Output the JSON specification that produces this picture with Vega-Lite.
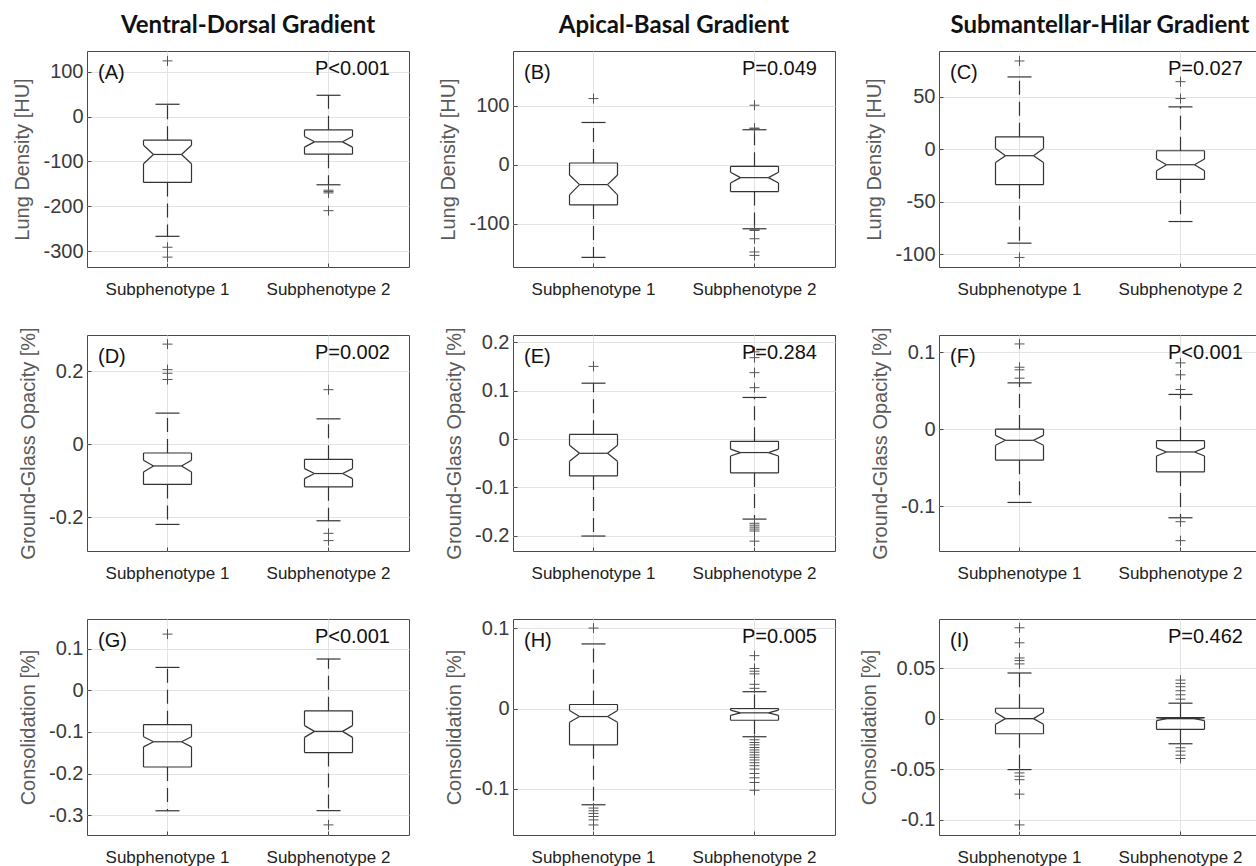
{
"$schema":"https://vega.github.io/schema/vega-lite/v6.json",
"background":"white",
"padding":{"left":12,"top":13,"right":0,"bottom":0},
"columns":3,
"spacing":{"row":68,"column":104},
"bounds":"flush",
"config":{
"font":"Liberation Sans",
"view":{"stroke":"#4a4a4a","strokeWidth":1},
"axis":{"domain":false,"gridColor":"#e3e3e3","gridWidth":1,"tickColor":"#4a4a4a","tickSize":-4,"labelFont":"Liberation Sans","titleFont":"Liberation Sans","titleFontWeight":"normal"},
"axisY":{"labelFontSize":20,"labelColor":"#3a3a3a","titleFontSize":20,"titleColor":"#5a5a5a","titlePadding":10,"labelPadding":8},
"axisX":{"labelFontSize":17,"labelColor":"#222222","labelPadding":18},
"rule":{"color":"#333333","strokeWidth":1.2},
"point":{"stroke":"#555555","strokeWidth":1,"opacity":1},
"text":{"fontSize":20,"color":"#111111","font":"Liberation Sans"},
"title":{"font":"Lato","fontSize":24,"fontWeight":"bold","color":"#111111","offset":13.5,"baseline":"alphabetic","anchor":"middle","frame":"group"}
},
"concat":[
{"width":322,"height":216,"title":{"text":"Ventral-Dorsal Gradient"},
"data":{"values":[{"g":"Subphenotype 1","q1":-146.7,"q3":-52.6,"med":-84.4,"nhi":-64,"nlo":-105,"whi":27.4,"wlo":-266.7},{"g":"Subphenotype 2","q1":-83.7,"q3":-29.6,"med":-56.3,"nhi":-44.4,"nlo":-68,"whi":47.4,"wlo":-151.9}]},
"encoding":{"x":{"field":"g","type":"nominal","bandPosition":0.5,"title":null,"scale":{"type":"band","domain":["Subphenotype 1","Subphenotype 2"],"paddingInner":0,"paddingOuter":0},"axis":{"labelAngle":0,"grid":true,"bandPosition":0.5}}},
"layer":[
{"mark":{"type":"rule","xOffset":-24,"x2Offset":24},"encoding":{"x2":{"field":"g","bandPosition":0.5},"y":{"field":"q3","type":"quantitative","scale":{"domain":[-335,146],"nice":false,"zero":false},"axis":{"title":"Lung Density [HU]","values":[-300,-200,-100,0,100],"labelExpr":"'' + datum.value"}},"y2":{"field":"q3"}}},
{"mark":{"type":"rule","xOffset":-24,"x2Offset":24},"encoding":{"x2":{"field":"g","bandPosition":0.5},"y":{"field":"q1","type":"quantitative"},"y2":{"field":"q1"}}},
{"mark":{"type":"rule","xOffset":-24,"x2Offset":-24},"encoding":{"x2":{"field":"g","bandPosition":0.5},"y":{"field":"q3","type":"quantitative"},"y2":{"field":"nhi"}}},
{"mark":{"type":"rule","xOffset":-24,"x2Offset":-14},"encoding":{"x2":{"field":"g","bandPosition":0.5},"y":{"field":"nhi","type":"quantitative"},"y2":{"field":"med"}}},
{"mark":{"type":"rule","xOffset":-14,"x2Offset":-24},"encoding":{"x2":{"field":"g","bandPosition":0.5},"y":{"field":"med","type":"quantitative"},"y2":{"field":"nlo"}}},
{"mark":{"type":"rule","xOffset":-24,"x2Offset":-24},"encoding":{"x2":{"field":"g","bandPosition":0.5},"y":{"field":"nlo","type":"quantitative"},"y2":{"field":"q1"}}},
{"mark":{"type":"rule","xOffset":24,"x2Offset":24},"encoding":{"x2":{"field":"g","bandPosition":0.5},"y":{"field":"q3","type":"quantitative"},"y2":{"field":"nhi"}}},
{"mark":{"type":"rule","xOffset":24,"x2Offset":14},"encoding":{"x2":{"field":"g","bandPosition":0.5},"y":{"field":"nhi","type":"quantitative"},"y2":{"field":"med"}}},
{"mark":{"type":"rule","xOffset":14,"x2Offset":24},"encoding":{"x2":{"field":"g","bandPosition":0.5},"y":{"field":"med","type":"quantitative"},"y2":{"field":"nlo"}}},
{"mark":{"type":"rule","xOffset":24,"x2Offset":24},"encoding":{"x2":{"field":"g","bandPosition":0.5},"y":{"field":"nlo","type":"quantitative"},"y2":{"field":"q1"}}},
{"mark":{"type":"rule","xOffset":-14,"x2Offset":14},"encoding":{"x2":{"field":"g","bandPosition":0.5},"y":{"field":"med","type":"quantitative"},"y2":{"field":"med"}}},
{"mark":{"type":"rule","strokeDash":[14,7]},"encoding":{"y":{"field":"q3","type":"quantitative"},"y2":{"field":"whi"}}},
{"mark":{"type":"rule","strokeDash":[14,7]},"encoding":{"y":{"field":"q1","type":"quantitative"},"y2":{"field":"wlo"}}},
{"mark":{"type":"rule","xOffset":-12,"x2Offset":12},"encoding":{"x2":{"field":"g","bandPosition":0.5},"y":{"field":"whi","type":"quantitative"},"y2":{"field":"whi"}}},
{"mark":{"type":"rule","xOffset":-12,"x2Offset":12},"encoding":{"x2":{"field":"g","bandPosition":0.5},"y":{"field":"wlo","type":"quantitative"},"y2":{"field":"wlo"}}},
{"data":{"values":[{"g":"Subphenotype 1","v":124},{"g":"Subphenotype 1","v":-291},{"g":"Subphenotype 1","v":-313},{"g":"Subphenotype 2","v":-164},{"g":"Subphenotype 2","v":-167},{"g":"Subphenotype 2","v":-170},{"g":"Subphenotype 2","v":-209.6}]},"mark":{"type":"point","shape":"M-1,0H1M0,-1V1","size":100,"filled":false},"encoding":{"y":{"field":"v","type":"quantitative"}}},
{"data":{"values":[{"g":"Subphenotype 1","t":"(A)"}]},"mark":{"type":"text","align":"left","baseline":"top","dx":11,"dy":12},"encoding":{"x":{"field":"g","type":"nominal","bandPosition":0,"scale":{"type":"band"}},"y":{"datum":146,"type":"quantitative"},"text":{"field":"t"}}},
{"data":{"values":[{"g":"Subphenotype 2","t":"P<0.001"}]},"mark":{"type":"text","align":"right","baseline":"top","dx":-19,"dy":8},"encoding":{"x":{"field":"g","type":"nominal","bandPosition":1,"scale":{"type":"band"}},"y":{"datum":146,"type":"quantitative"},"text":{"field":"t"}}}
]},
{"width":322,"height":216,"title":{"text":"Apical-Basal Gradient"},
"data":{"values":[{"g":"Subphenotype 1","q1":-68.2,"q3":2.8,"med":-33.8,"nhi":-17.5,"nlo":-51.3,"whi":71.5,"wlo":-157.2},{"g":"Subphenotype 2","q1":-45.6,"q3":-2.8,"med":-22,"nhi":-13,"nlo":-31,"whi":59.2,"wlo":-108.7}]},
"encoding":{"x":{"field":"g","type":"nominal","bandPosition":0.5,"title":null,"scale":{"type":"band","domain":["Subphenotype 1","Subphenotype 2"],"paddingInner":0,"paddingOuter":0},"axis":{"labelAngle":0,"grid":true,"bandPosition":0.5}}},
"layer":[
{"mark":{"type":"rule","xOffset":-24,"x2Offset":24},"encoding":{"x2":{"field":"g","bandPosition":0.5},"y":{"field":"q3","type":"quantitative","scale":{"domain":[-173.5,192.7],"nice":false,"zero":false},"axis":{"title":"Lung Density [HU]","values":[-100,0,100],"labelExpr":"'' + datum.value"}},"y2":{"field":"q3"}}},
{"mark":{"type":"rule","xOffset":-24,"x2Offset":24},"encoding":{"x2":{"field":"g","bandPosition":0.5},"y":{"field":"q1","type":"quantitative"},"y2":{"field":"q1"}}},
{"mark":{"type":"rule","xOffset":-24,"x2Offset":-24},"encoding":{"x2":{"field":"g","bandPosition":0.5},"y":{"field":"q3","type":"quantitative"},"y2":{"field":"nhi"}}},
{"mark":{"type":"rule","xOffset":-24,"x2Offset":-14},"encoding":{"x2":{"field":"g","bandPosition":0.5},"y":{"field":"nhi","type":"quantitative"},"y2":{"field":"med"}}},
{"mark":{"type":"rule","xOffset":-14,"x2Offset":-24},"encoding":{"x2":{"field":"g","bandPosition":0.5},"y":{"field":"med","type":"quantitative"},"y2":{"field":"nlo"}}},
{"mark":{"type":"rule","xOffset":-24,"x2Offset":-24},"encoding":{"x2":{"field":"g","bandPosition":0.5},"y":{"field":"nlo","type":"quantitative"},"y2":{"field":"q1"}}},
{"mark":{"type":"rule","xOffset":24,"x2Offset":24},"encoding":{"x2":{"field":"g","bandPosition":0.5},"y":{"field":"q3","type":"quantitative"},"y2":{"field":"nhi"}}},
{"mark":{"type":"rule","xOffset":24,"x2Offset":14},"encoding":{"x2":{"field":"g","bandPosition":0.5},"y":{"field":"nhi","type":"quantitative"},"y2":{"field":"med"}}},
{"mark":{"type":"rule","xOffset":14,"x2Offset":24},"encoding":{"x2":{"field":"g","bandPosition":0.5},"y":{"field":"med","type":"quantitative"},"y2":{"field":"nlo"}}},
{"mark":{"type":"rule","xOffset":24,"x2Offset":24},"encoding":{"x2":{"field":"g","bandPosition":0.5},"y":{"field":"nlo","type":"quantitative"},"y2":{"field":"q1"}}},
{"mark":{"type":"rule","xOffset":-14,"x2Offset":14},"encoding":{"x2":{"field":"g","bandPosition":0.5},"y":{"field":"med","type":"quantitative"},"y2":{"field":"med"}}},
{"mark":{"type":"rule","strokeDash":[14,7]},"encoding":{"y":{"field":"q3","type":"quantitative"},"y2":{"field":"whi"}}},
{"mark":{"type":"rule","strokeDash":[14,7]},"encoding":{"y":{"field":"q1","type":"quantitative"},"y2":{"field":"wlo"}}},
{"mark":{"type":"rule","xOffset":-12,"x2Offset":12},"encoding":{"x2":{"field":"g","bandPosition":0.5},"y":{"field":"whi","type":"quantitative"},"y2":{"field":"whi"}}},
{"mark":{"type":"rule","xOffset":-12,"x2Offset":12},"encoding":{"x2":{"field":"g","bandPosition":0.5},"y":{"field":"wlo","type":"quantitative"},"y2":{"field":"wlo"}}},
{"data":{"values":[{"g":"Subphenotype 1","v":112},{"g":"Subphenotype 2","v":100.8},{"g":"Subphenotype 2","v":62},{"g":"Subphenotype 2","v":61},{"g":"Subphenotype 2","v":-110.5},{"g":"Subphenotype 2","v":-111.5},{"g":"Subphenotype 2","v":-125.6},{"g":"Subphenotype 2","v":-148},{"g":"Subphenotype 2","v":-153.8}]},"mark":{"type":"point","shape":"M-1,0H1M0,-1V1","size":100,"filled":false},"encoding":{"y":{"field":"v","type":"quantitative"}}},
{"data":{"values":[{"g":"Subphenotype 1","t":"(B)"}]},"mark":{"type":"text","align":"left","baseline":"top","dx":11,"dy":12},"encoding":{"x":{"field":"g","type":"nominal","bandPosition":0,"scale":{"type":"band"}},"y":{"datum":192.7,"type":"quantitative"},"text":{"field":"t"}}},
{"data":{"values":[{"g":"Subphenotype 2","t":"P=0.049"}]},"mark":{"type":"text","align":"right","baseline":"top","dx":-18,"dy":8},"encoding":{"x":{"field":"g","type":"nominal","bandPosition":1,"scale":{"type":"band"}},"y":{"datum":192.7,"type":"quantitative"},"text":{"field":"t"}}}
]},
{"width":322,"height":216,"title":{"text":"Submantellar-Hilar Gradient"},
"data":{"values":[{"g":"Subphenotype 1","q1":-33.9,"q3":11.7,"med":-6.3,"nhi":0.6,"nlo":-12.7,"whi":68.7,"wlo":-89.6},{"g":"Subphenotype 2","q1":-28.8,"q3":-1.6,"med":-14.9,"nhi":-9.5,"nlo":-20.6,"whi":40.2,"wlo":-69}]},
"encoding":{"x":{"field":"g","type":"nominal","bandPosition":0.5,"title":null,"scale":{"type":"band","domain":["Subphenotype 1","Subphenotype 2"],"paddingInner":0,"paddingOuter":0},"axis":{"labelAngle":0,"grid":true,"bandPosition":0.5}}},
"layer":[
{"mark":{"type":"rule","xOffset":-24,"x2Offset":24},"encoding":{"x2":{"field":"g","bandPosition":0.5},"y":{"field":"q3","type":"quantitative","scale":{"domain":[-112.3,93.4],"nice":false,"zero":false},"axis":{"title":"Lung Density [HU]","values":[-100,-50,0,50],"labelExpr":"'' + datum.value"}},"y2":{"field":"q3"}}},
{"mark":{"type":"rule","xOffset":-24,"x2Offset":24},"encoding":{"x2":{"field":"g","bandPosition":0.5},"y":{"field":"q1","type":"quantitative"},"y2":{"field":"q1"}}},
{"mark":{"type":"rule","xOffset":-24,"x2Offset":-24},"encoding":{"x2":{"field":"g","bandPosition":0.5},"y":{"field":"q3","type":"quantitative"},"y2":{"field":"nhi"}}},
{"mark":{"type":"rule","xOffset":-24,"x2Offset":-14},"encoding":{"x2":{"field":"g","bandPosition":0.5},"y":{"field":"nhi","type":"quantitative"},"y2":{"field":"med"}}},
{"mark":{"type":"rule","xOffset":-14,"x2Offset":-24},"encoding":{"x2":{"field":"g","bandPosition":0.5},"y":{"field":"med","type":"quantitative"},"y2":{"field":"nlo"}}},
{"mark":{"type":"rule","xOffset":-24,"x2Offset":-24},"encoding":{"x2":{"field":"g","bandPosition":0.5},"y":{"field":"nlo","type":"quantitative"},"y2":{"field":"q1"}}},
{"mark":{"type":"rule","xOffset":24,"x2Offset":24},"encoding":{"x2":{"field":"g","bandPosition":0.5},"y":{"field":"q3","type":"quantitative"},"y2":{"field":"nhi"}}},
{"mark":{"type":"rule","xOffset":24,"x2Offset":14},"encoding":{"x2":{"field":"g","bandPosition":0.5},"y":{"field":"nhi","type":"quantitative"},"y2":{"field":"med"}}},
{"mark":{"type":"rule","xOffset":14,"x2Offset":24},"encoding":{"x2":{"field":"g","bandPosition":0.5},"y":{"field":"med","type":"quantitative"},"y2":{"field":"nlo"}}},
{"mark":{"type":"rule","xOffset":24,"x2Offset":24},"encoding":{"x2":{"field":"g","bandPosition":0.5},"y":{"field":"nlo","type":"quantitative"},"y2":{"field":"q1"}}},
{"mark":{"type":"rule","xOffset":-14,"x2Offset":14},"encoding":{"x2":{"field":"g","bandPosition":0.5},"y":{"field":"med","type":"quantitative"},"y2":{"field":"med"}}},
{"mark":{"type":"rule","strokeDash":[14,7]},"encoding":{"y":{"field":"q3","type":"quantitative"},"y2":{"field":"whi"}}},
{"mark":{"type":"rule","strokeDash":[14,7]},"encoding":{"y":{"field":"q1","type":"quantitative"},"y2":{"field":"wlo"}}},
{"mark":{"type":"rule","xOffset":-12,"x2Offset":12},"encoding":{"x2":{"field":"g","bandPosition":0.5},"y":{"field":"whi","type":"quantitative"},"y2":{"field":"whi"}}},
{"mark":{"type":"rule","xOffset":-12,"x2Offset":12},"encoding":{"x2":{"field":"g","bandPosition":0.5},"y":{"field":"wlo","type":"quantitative"},"y2":{"field":"wlo"}}},
{"data":{"values":[{"g":"Subphenotype 1","v":83.9},{"g":"Subphenotype 1","v":-103.2},{"g":"Subphenotype 2","v":64.2},{"g":"Subphenotype 2","v":48.1}]},"mark":{"type":"point","shape":"M-1,0H1M0,-1V1","size":100,"filled":false},"encoding":{"y":{"field":"v","type":"quantitative"}}},
{"data":{"values":[{"g":"Subphenotype 1","t":"(C)"}]},"mark":{"type":"text","align":"left","baseline":"top","dx":11,"dy":12},"encoding":{"x":{"field":"g","type":"nominal","bandPosition":0,"scale":{"type":"band"}},"y":{"datum":93.4,"type":"quantitative"},"text":{"field":"t"}}},
{"data":{"values":[{"g":"Subphenotype 2","t":"P=0.027"}]},"mark":{"type":"text","align":"right","baseline":"top","dx":-18,"dy":8},"encoding":{"x":{"field":"g","type":"nominal","bandPosition":1,"scale":{"type":"band"}},"y":{"datum":93.4,"type":"quantitative"},"text":{"field":"t"}}}
]},
{"width":322,"height":216,
"data":{"values":[{"g":"Subphenotype 1","q1":-0.11,"q3":-0.0237,"med":-0.0592,"nhi":-0.0437,"nlo":-0.0756,"whi":0.0857,"wlo":-0.2196},{"g":"Subphenotype 2","q1":-0.1166,"q3":-0.041,"med":-0.08,"nhi":-0.0665,"nlo":-0.094,"whi":0.07,"wlo":-0.2096}]},
"encoding":{"x":{"field":"g","type":"nominal","bandPosition":0.5,"title":null,"scale":{"type":"band","domain":["Subphenotype 1","Subphenotype 2"],"paddingInner":0,"paddingOuter":0},"axis":{"labelAngle":0,"grid":true,"bandPosition":0.5}}},
"layer":[
{"mark":{"type":"rule","xOffset":-24,"x2Offset":24},"encoding":{"x2":{"field":"g","bandPosition":0.5},"y":{"field":"q3","type":"quantitative","scale":{"domain":[-0.2925,0.3],"nice":false,"zero":false},"axis":{"title":"Ground-Glass Opacity [%]","values":[-0.2,0,0.2],"labelExpr":"'' + datum.value"}},"y2":{"field":"q3"}}},
{"mark":{"type":"rule","xOffset":-24,"x2Offset":24},"encoding":{"x2":{"field":"g","bandPosition":0.5},"y":{"field":"q1","type":"quantitative"},"y2":{"field":"q1"}}},
{"mark":{"type":"rule","xOffset":-24,"x2Offset":-24},"encoding":{"x2":{"field":"g","bandPosition":0.5},"y":{"field":"q3","type":"quantitative"},"y2":{"field":"nhi"}}},
{"mark":{"type":"rule","xOffset":-24,"x2Offset":-14},"encoding":{"x2":{"field":"g","bandPosition":0.5},"y":{"field":"nhi","type":"quantitative"},"y2":{"field":"med"}}},
{"mark":{"type":"rule","xOffset":-14,"x2Offset":-24},"encoding":{"x2":{"field":"g","bandPosition":0.5},"y":{"field":"med","type":"quantitative"},"y2":{"field":"nlo"}}},
{"mark":{"type":"rule","xOffset":-24,"x2Offset":-24},"encoding":{"x2":{"field":"g","bandPosition":0.5},"y":{"field":"nlo","type":"quantitative"},"y2":{"field":"q1"}}},
{"mark":{"type":"rule","xOffset":24,"x2Offset":24},"encoding":{"x2":{"field":"g","bandPosition":0.5},"y":{"field":"q3","type":"quantitative"},"y2":{"field":"nhi"}}},
{"mark":{"type":"rule","xOffset":24,"x2Offset":14},"encoding":{"x2":{"field":"g","bandPosition":0.5},"y":{"field":"nhi","type":"quantitative"},"y2":{"field":"med"}}},
{"mark":{"type":"rule","xOffset":14,"x2Offset":24},"encoding":{"x2":{"field":"g","bandPosition":0.5},"y":{"field":"med","type":"quantitative"},"y2":{"field":"nlo"}}},
{"mark":{"type":"rule","xOffset":24,"x2Offset":24},"encoding":{"x2":{"field":"g","bandPosition":0.5},"y":{"field":"nlo","type":"quantitative"},"y2":{"field":"q1"}}},
{"mark":{"type":"rule","xOffset":-14,"x2Offset":14},"encoding":{"x2":{"field":"g","bandPosition":0.5},"y":{"field":"med","type":"quantitative"},"y2":{"field":"med"}}},
{"mark":{"type":"rule","strokeDash":[14,7]},"encoding":{"y":{"field":"q3","type":"quantitative"},"y2":{"field":"whi"}}},
{"mark":{"type":"rule","strokeDash":[14,7]},"encoding":{"y":{"field":"q1","type":"quantitative"},"y2":{"field":"wlo"}}},
{"mark":{"type":"rule","xOffset":-12,"x2Offset":12},"encoding":{"x2":{"field":"g","bandPosition":0.5},"y":{"field":"whi","type":"quantitative"},"y2":{"field":"whi"}}},
{"mark":{"type":"rule","xOffset":-12,"x2Offset":12},"encoding":{"x2":{"field":"g","bandPosition":0.5},"y":{"field":"wlo","type":"quantitative"},"y2":{"field":"wlo"}}},
{"data":{"values":[{"g":"Subphenotype 1","v":0.275},{"g":"Subphenotype 1","v":0.205},{"g":"Subphenotype 1","v":0.195},{"g":"Subphenotype 1","v":0.178},{"g":"Subphenotype 2","v":0.15},{"g":"Subphenotype 2","v":-0.244},{"g":"Subphenotype 2","v":-0.264}]},"mark":{"type":"point","shape":"M-1,0H1M0,-1V1","size":100,"filled":false},"encoding":{"y":{"field":"v","type":"quantitative"}}},
{"data":{"values":[{"g":"Subphenotype 1","t":"(D)"}]},"mark":{"type":"text","align":"left","baseline":"top","dx":11,"dy":12},"encoding":{"x":{"field":"g","type":"nominal","bandPosition":0,"scale":{"type":"band"}},"y":{"datum":0.3,"type":"quantitative"},"text":{"field":"t"}}},
{"data":{"values":[{"g":"Subphenotype 2","t":"P=0.002"}]},"mark":{"type":"text","align":"right","baseline":"top","dx":-19,"dy":8},"encoding":{"x":{"field":"g","type":"nominal","bandPosition":1,"scale":{"type":"band"}},"y":{"datum":0.3,"type":"quantitative"},"text":{"field":"t"}}}
]},
{"width":322,"height":216,
"data":{"values":[{"g":"Subphenotype 1","q1":-0.0762,"q3":0.0096,"med":-0.0295,"nhi":-0.013,"nlo":-0.046,"whi":0.1153,"wlo":-0.2004},{"g":"Subphenotype 2","q1":-0.07,"q3":-0.0048,"med":-0.028,"nhi":-0.021,"nlo":-0.035,"whi":0.0858,"wlo":-0.1654}]},
"encoding":{"x":{"field":"g","type":"nominal","bandPosition":0.5,"title":null,"scale":{"type":"band","domain":["Subphenotype 1","Subphenotype 2"],"paddingInner":0,"paddingOuter":0},"axis":{"labelAngle":0,"grid":true,"bandPosition":0.5}}},
"layer":[
{"mark":{"type":"rule","xOffset":-24,"x2Offset":24},"encoding":{"x2":{"field":"g","bandPosition":0.5},"y":{"field":"q3","type":"quantitative","scale":{"domain":[-0.2313,0.2148],"nice":false,"zero":false},"axis":{"title":"Ground-Glass Opacity [%]","values":[-0.2,-0.1,0,0.1,0.2],"labelExpr":"'' + datum.value"}},"y2":{"field":"q3"}}},
{"mark":{"type":"rule","xOffset":-24,"x2Offset":24},"encoding":{"x2":{"field":"g","bandPosition":0.5},"y":{"field":"q1","type":"quantitative"},"y2":{"field":"q1"}}},
{"mark":{"type":"rule","xOffset":-24,"x2Offset":-24},"encoding":{"x2":{"field":"g","bandPosition":0.5},"y":{"field":"q3","type":"quantitative"},"y2":{"field":"nhi"}}},
{"mark":{"type":"rule","xOffset":-24,"x2Offset":-14},"encoding":{"x2":{"field":"g","bandPosition":0.5},"y":{"field":"nhi","type":"quantitative"},"y2":{"field":"med"}}},
{"mark":{"type":"rule","xOffset":-14,"x2Offset":-24},"encoding":{"x2":{"field":"g","bandPosition":0.5},"y":{"field":"med","type":"quantitative"},"y2":{"field":"nlo"}}},
{"mark":{"type":"rule","xOffset":-24,"x2Offset":-24},"encoding":{"x2":{"field":"g","bandPosition":0.5},"y":{"field":"nlo","type":"quantitative"},"y2":{"field":"q1"}}},
{"mark":{"type":"rule","xOffset":24,"x2Offset":24},"encoding":{"x2":{"field":"g","bandPosition":0.5},"y":{"field":"q3","type":"quantitative"},"y2":{"field":"nhi"}}},
{"mark":{"type":"rule","xOffset":24,"x2Offset":14},"encoding":{"x2":{"field":"g","bandPosition":0.5},"y":{"field":"nhi","type":"quantitative"},"y2":{"field":"med"}}},
{"mark":{"type":"rule","xOffset":14,"x2Offset":24},"encoding":{"x2":{"field":"g","bandPosition":0.5},"y":{"field":"med","type":"quantitative"},"y2":{"field":"nlo"}}},
{"mark":{"type":"rule","xOffset":24,"x2Offset":24},"encoding":{"x2":{"field":"g","bandPosition":0.5},"y":{"field":"nlo","type":"quantitative"},"y2":{"field":"q1"}}},
{"mark":{"type":"rule","xOffset":-14,"x2Offset":14},"encoding":{"x2":{"field":"g","bandPosition":0.5},"y":{"field":"med","type":"quantitative"},"y2":{"field":"med"}}},
{"mark":{"type":"rule","strokeDash":[14,7]},"encoding":{"y":{"field":"q3","type":"quantitative"},"y2":{"field":"whi"}}},
{"mark":{"type":"rule","strokeDash":[14,7]},"encoding":{"y":{"field":"q1","type":"quantitative"},"y2":{"field":"wlo"}}},
{"mark":{"type":"rule","xOffset":-12,"x2Offset":12},"encoding":{"x2":{"field":"g","bandPosition":0.5},"y":{"field":"whi","type":"quantitative"},"y2":{"field":"whi"}}},
{"mark":{"type":"rule","xOffset":-12,"x2Offset":12},"encoding":{"x2":{"field":"g","bandPosition":0.5},"y":{"field":"wlo","type":"quantitative"},"y2":{"field":"wlo"}}},
{"data":{"values":[{"g":"Subphenotype 1","v":0.15},{"g":"Subphenotype 2","v":0.18},{"g":"Subphenotype 2","v":0.168},{"g":"Subphenotype 2","v":0.137},{"g":"Subphenotype 2","v":0.106},{"g":"Subphenotype 2","v":-0.174},{"g":"Subphenotype 2","v":-0.178},{"g":"Subphenotype 2","v":-0.182},{"g":"Subphenotype 2","v":-0.186},{"g":"Subphenotype 2","v":-0.19},{"g":"Subphenotype 2","v":-0.211}]},"mark":{"type":"point","shape":"M-1,0H1M0,-1V1","size":100,"filled":false},"encoding":{"y":{"field":"v","type":"quantitative"}}},
{"data":{"values":[{"g":"Subphenotype 1","t":"(E)"}]},"mark":{"type":"text","align":"left","baseline":"top","dx":11,"dy":12},"encoding":{"x":{"field":"g","type":"nominal","bandPosition":0,"scale":{"type":"band"}},"y":{"datum":0.2148,"type":"quantitative"},"text":{"field":"t"}}},
{"data":{"values":[{"g":"Subphenotype 2","t":"P=0.284"}]},"mark":{"type":"text","align":"right","baseline":"top","dx":-18,"dy":8},"encoding":{"x":{"field":"g","type":"nominal","bandPosition":1,"scale":{"type":"band"}},"y":{"datum":0.2148,"type":"quantitative"},"text":{"field":"t"}}}
]},
{"width":322,"height":216,
"data":{"values":[{"g":"Subphenotype 1","q1":-0.04,"q3":0.0004,"med":-0.0142,"nhi":-0.0078,"nlo":-0.0207,"whi":0.0603,"wlo":-0.0948},{"g":"Subphenotype 2","q1":-0.0552,"q3":-0.0147,"med":-0.0293,"nhi":-0.024,"nlo":-0.0345,"whi":0.0453,"wlo":-0.1147}]},
"encoding":{"x":{"field":"g","type":"nominal","bandPosition":0.5,"title":null,"scale":{"type":"band","domain":["Subphenotype 1","Subphenotype 2"],"paddingInner":0,"paddingOuter":0},"axis":{"labelAngle":0,"grid":true,"bandPosition":0.5}}},
"layer":[
{"mark":{"type":"rule","xOffset":-24,"x2Offset":24},"encoding":{"x2":{"field":"g","bandPosition":0.5},"y":{"field":"q3","type":"quantitative","scale":{"domain":[-0.1578,0.1224],"nice":false,"zero":false},"axis":{"title":"Ground-Glass Opacity [%]","values":[-0.1,0,0.1],"labelExpr":"'' + datum.value"}},"y2":{"field":"q3"}}},
{"mark":{"type":"rule","xOffset":-24,"x2Offset":24},"encoding":{"x2":{"field":"g","bandPosition":0.5},"y":{"field":"q1","type":"quantitative"},"y2":{"field":"q1"}}},
{"mark":{"type":"rule","xOffset":-24,"x2Offset":-24},"encoding":{"x2":{"field":"g","bandPosition":0.5},"y":{"field":"q3","type":"quantitative"},"y2":{"field":"nhi"}}},
{"mark":{"type":"rule","xOffset":-24,"x2Offset":-14},"encoding":{"x2":{"field":"g","bandPosition":0.5},"y":{"field":"nhi","type":"quantitative"},"y2":{"field":"med"}}},
{"mark":{"type":"rule","xOffset":-14,"x2Offset":-24},"encoding":{"x2":{"field":"g","bandPosition":0.5},"y":{"field":"med","type":"quantitative"},"y2":{"field":"nlo"}}},
{"mark":{"type":"rule","xOffset":-24,"x2Offset":-24},"encoding":{"x2":{"field":"g","bandPosition":0.5},"y":{"field":"nlo","type":"quantitative"},"y2":{"field":"q1"}}},
{"mark":{"type":"rule","xOffset":24,"x2Offset":24},"encoding":{"x2":{"field":"g","bandPosition":0.5},"y":{"field":"q3","type":"quantitative"},"y2":{"field":"nhi"}}},
{"mark":{"type":"rule","xOffset":24,"x2Offset":14},"encoding":{"x2":{"field":"g","bandPosition":0.5},"y":{"field":"nhi","type":"quantitative"},"y2":{"field":"med"}}},
{"mark":{"type":"rule","xOffset":14,"x2Offset":24},"encoding":{"x2":{"field":"g","bandPosition":0.5},"y":{"field":"med","type":"quantitative"},"y2":{"field":"nlo"}}},
{"mark":{"type":"rule","xOffset":24,"x2Offset":24},"encoding":{"x2":{"field":"g","bandPosition":0.5},"y":{"field":"nlo","type":"quantitative"},"y2":{"field":"q1"}}},
{"mark":{"type":"rule","xOffset":-14,"x2Offset":14},"encoding":{"x2":{"field":"g","bandPosition":0.5},"y":{"field":"med","type":"quantitative"},"y2":{"field":"med"}}},
{"mark":{"type":"rule","strokeDash":[14,7]},"encoding":{"y":{"field":"q3","type":"quantitative"},"y2":{"field":"whi"}}},
{"mark":{"type":"rule","strokeDash":[14,7]},"encoding":{"y":{"field":"q1","type":"quantitative"},"y2":{"field":"wlo"}}},
{"mark":{"type":"rule","xOffset":-12,"x2Offset":12},"encoding":{"x2":{"field":"g","bandPosition":0.5},"y":{"field":"whi","type":"quantitative"},"y2":{"field":"whi"}}},
{"mark":{"type":"rule","xOffset":-12,"x2Offset":12},"encoding":{"x2":{"field":"g","bandPosition":0.5},"y":{"field":"wlo","type":"quantitative"},"y2":{"field":"wlo"}}},
{"data":{"values":[{"g":"Subphenotype 1","v":0.1108},{"g":"Subphenotype 1","v":0.0806},{"g":"Subphenotype 1","v":0.0772},{"g":"Subphenotype 1","v":0.0664},{"g":"Subphenotype 2","v":0.0862},{"g":"Subphenotype 2","v":0.0707},{"g":"Subphenotype 2","v":0.0517},{"g":"Subphenotype 2","v":-0.1198},{"g":"Subphenotype 2","v":-0.1444}]},"mark":{"type":"point","shape":"M-1,0H1M0,-1V1","size":100,"filled":false},"encoding":{"y":{"field":"v","type":"quantitative"}}},
{"data":{"values":[{"g":"Subphenotype 1","t":"(F)"}]},"mark":{"type":"text","align":"left","baseline":"top","dx":11,"dy":12},"encoding":{"x":{"field":"g","type":"nominal","bandPosition":0,"scale":{"type":"band"}},"y":{"datum":0.1224,"type":"quantitative"},"text":{"field":"t"}}},
{"data":{"values":[{"g":"Subphenotype 2","t":"P<0.001"}]},"mark":{"type":"text","align":"right","baseline":"top","dx":-18,"dy":8},"encoding":{"x":{"field":"g","type":"nominal","bandPosition":1,"scale":{"type":"band"}},"y":{"datum":0.1224,"type":"quantitative"},"text":{"field":"t"}}}
]},
{"width":322,"height":216,
"data":{"values":[{"g":"Subphenotype 1","q1":-0.1842,"q3":-0.0824,"med":-0.1236,"nhi":-0.1115,"nlo":-0.1358,"whi":0.055,"wlo":-0.2893},{"g":"Subphenotype 2","q1":-0.1495,"q3":-0.0493,"med":-0.0986,"nhi":-0.0848,"nlo":-0.113,"whi":0.0752,"wlo":-0.289}]},
"encoding":{"x":{"field":"g","type":"nominal","bandPosition":0.5,"title":null,"scale":{"type":"band","domain":["Subphenotype 1","Subphenotype 2"],"paddingInner":0,"paddingOuter":0},"axis":{"labelAngle":0,"grid":true,"bandPosition":0.5}}},
"layer":[
{"mark":{"type":"rule","xOffset":-24,"x2Offset":24},"encoding":{"x2":{"field":"g","bandPosition":0.5},"y":{"field":"q3","type":"quantitative","scale":{"domain":[-0.3475,0.1713],"nice":false,"zero":false},"axis":{"title":"Consolidation [%]","values":[-0.3,-0.2,-0.1,0,0.1],"labelExpr":"'' + datum.value"}},"y2":{"field":"q3"}}},
{"mark":{"type":"rule","xOffset":-24,"x2Offset":24},"encoding":{"x2":{"field":"g","bandPosition":0.5},"y":{"field":"q1","type":"quantitative"},"y2":{"field":"q1"}}},
{"mark":{"type":"rule","xOffset":-24,"x2Offset":-24},"encoding":{"x2":{"field":"g","bandPosition":0.5},"y":{"field":"q3","type":"quantitative"},"y2":{"field":"nhi"}}},
{"mark":{"type":"rule","xOffset":-24,"x2Offset":-14},"encoding":{"x2":{"field":"g","bandPosition":0.5},"y":{"field":"nhi","type":"quantitative"},"y2":{"field":"med"}}},
{"mark":{"type":"rule","xOffset":-14,"x2Offset":-24},"encoding":{"x2":{"field":"g","bandPosition":0.5},"y":{"field":"med","type":"quantitative"},"y2":{"field":"nlo"}}},
{"mark":{"type":"rule","xOffset":-24,"x2Offset":-24},"encoding":{"x2":{"field":"g","bandPosition":0.5},"y":{"field":"nlo","type":"quantitative"},"y2":{"field":"q1"}}},
{"mark":{"type":"rule","xOffset":24,"x2Offset":24},"encoding":{"x2":{"field":"g","bandPosition":0.5},"y":{"field":"q3","type":"quantitative"},"y2":{"field":"nhi"}}},
{"mark":{"type":"rule","xOffset":24,"x2Offset":14},"encoding":{"x2":{"field":"g","bandPosition":0.5},"y":{"field":"nhi","type":"quantitative"},"y2":{"field":"med"}}},
{"mark":{"type":"rule","xOffset":14,"x2Offset":24},"encoding":{"x2":{"field":"g","bandPosition":0.5},"y":{"field":"med","type":"quantitative"},"y2":{"field":"nlo"}}},
{"mark":{"type":"rule","xOffset":24,"x2Offset":24},"encoding":{"x2":{"field":"g","bandPosition":0.5},"y":{"field":"nlo","type":"quantitative"},"y2":{"field":"q1"}}},
{"mark":{"type":"rule","xOffset":-14,"x2Offset":14},"encoding":{"x2":{"field":"g","bandPosition":0.5},"y":{"field":"med","type":"quantitative"},"y2":{"field":"med"}}},
{"mark":{"type":"rule","strokeDash":[14,7]},"encoding":{"y":{"field":"q3","type":"quantitative"},"y2":{"field":"whi"}}},
{"mark":{"type":"rule","strokeDash":[14,7]},"encoding":{"y":{"field":"q1","type":"quantitative"},"y2":{"field":"wlo"}}},
{"mark":{"type":"rule","xOffset":-12,"x2Offset":12},"encoding":{"x2":{"field":"g","bandPosition":0.5},"y":{"field":"whi","type":"quantitative"},"y2":{"field":"whi"}}},
{"mark":{"type":"rule","xOffset":-12,"x2Offset":12},"encoding":{"x2":{"field":"g","bandPosition":0.5},"y":{"field":"wlo","type":"quantitative"},"y2":{"field":"wlo"}}},
{"data":{"values":[{"g":"Subphenotype 1","v":0.135},{"g":"Subphenotype 2","v":-0.3232}]},"mark":{"type":"point","shape":"M-1,0H1M0,-1V1","size":100,"filled":false},"encoding":{"y":{"field":"v","type":"quantitative"}}},
{"data":{"values":[{"g":"Subphenotype 1","t":"(G)"}]},"mark":{"type":"text","align":"left","baseline":"top","dx":11,"dy":12},"encoding":{"x":{"field":"g","type":"nominal","bandPosition":0,"scale":{"type":"band"}},"y":{"datum":0.1713,"type":"quantitative"},"text":{"field":"t"}}},
{"data":{"values":[{"g":"Subphenotype 2","t":"P<0.001"}]},"mark":{"type":"text","align":"right","baseline":"top","dx":-19,"dy":8},"encoding":{"x":{"field":"g","type":"nominal","bandPosition":1,"scale":{"type":"band"}},"y":{"datum":0.1713,"type":"quantitative"},"text":{"field":"t"}}}
]},
{"width":322,"height":216,
"data":{"values":[{"g":"Subphenotype 1","q1":-0.0452,"q3":0.005,"med":-0.01,"nhi":-0.0025,"nlo":-0.0172,"whi":0.0803,"wlo":-0.1197},{"g":"Subphenotype 2","q1":-0.0146,"q3":0,"med":-0.0054,"nhi":-0.002,"nlo":-0.0085,"whi":0.0209,"wlo":-0.0351}]},
"encoding":{"x":{"field":"g","type":"nominal","bandPosition":0.5,"title":null,"scale":{"type":"band","domain":["Subphenotype 1","Subphenotype 2"],"paddingInner":0,"paddingOuter":0},"axis":{"labelAngle":0,"grid":true,"bandPosition":0.5}}},
"layer":[
{"mark":{"type":"rule","xOffset":-24,"x2Offset":24},"encoding":{"x2":{"field":"g","bandPosition":0.5},"y":{"field":"q3","type":"quantitative","scale":{"domain":[-0.1573,0.1113],"nice":false,"zero":false},"axis":{"title":"Consolidation [%]","values":[-0.1,0,0.1],"labelExpr":"'' + datum.value"}},"y2":{"field":"q3"}}},
{"mark":{"type":"rule","xOffset":-24,"x2Offset":24},"encoding":{"x2":{"field":"g","bandPosition":0.5},"y":{"field":"q1","type":"quantitative"},"y2":{"field":"q1"}}},
{"mark":{"type":"rule","xOffset":-24,"x2Offset":-24},"encoding":{"x2":{"field":"g","bandPosition":0.5},"y":{"field":"q3","type":"quantitative"},"y2":{"field":"nhi"}}},
{"mark":{"type":"rule","xOffset":-24,"x2Offset":-14},"encoding":{"x2":{"field":"g","bandPosition":0.5},"y":{"field":"nhi","type":"quantitative"},"y2":{"field":"med"}}},
{"mark":{"type":"rule","xOffset":-14,"x2Offset":-24},"encoding":{"x2":{"field":"g","bandPosition":0.5},"y":{"field":"med","type":"quantitative"},"y2":{"field":"nlo"}}},
{"mark":{"type":"rule","xOffset":-24,"x2Offset":-24},"encoding":{"x2":{"field":"g","bandPosition":0.5},"y":{"field":"nlo","type":"quantitative"},"y2":{"field":"q1"}}},
{"mark":{"type":"rule","xOffset":24,"x2Offset":24},"encoding":{"x2":{"field":"g","bandPosition":0.5},"y":{"field":"q3","type":"quantitative"},"y2":{"field":"nhi"}}},
{"mark":{"type":"rule","xOffset":24,"x2Offset":14},"encoding":{"x2":{"field":"g","bandPosition":0.5},"y":{"field":"nhi","type":"quantitative"},"y2":{"field":"med"}}},
{"mark":{"type":"rule","xOffset":14,"x2Offset":24},"encoding":{"x2":{"field":"g","bandPosition":0.5},"y":{"field":"med","type":"quantitative"},"y2":{"field":"nlo"}}},
{"mark":{"type":"rule","xOffset":24,"x2Offset":24},"encoding":{"x2":{"field":"g","bandPosition":0.5},"y":{"field":"nlo","type":"quantitative"},"y2":{"field":"q1"}}},
{"mark":{"type":"rule","xOffset":-14,"x2Offset":14},"encoding":{"x2":{"field":"g","bandPosition":0.5},"y":{"field":"med","type":"quantitative"},"y2":{"field":"med"}}},
{"mark":{"type":"rule","strokeDash":[14,7]},"encoding":{"y":{"field":"q3","type":"quantitative"},"y2":{"field":"whi"}}},
{"mark":{"type":"rule","strokeDash":[14,7]},"encoding":{"y":{"field":"q1","type":"quantitative"},"y2":{"field":"wlo"}}},
{"mark":{"type":"rule","xOffset":-12,"x2Offset":12},"encoding":{"x2":{"field":"g","bandPosition":0.5},"y":{"field":"whi","type":"quantitative"},"y2":{"field":"whi"}}},
{"mark":{"type":"rule","xOffset":-12,"x2Offset":12},"encoding":{"x2":{"field":"g","bandPosition":0.5},"y":{"field":"wlo","type":"quantitative"},"y2":{"field":"wlo"}}},
{"data":{"values":[{"g":"Subphenotype 1","v":0.1},{"g":"Subphenotype 1","v":-0.1238},{"g":"Subphenotype 1","v":-0.1272},{"g":"Subphenotype 1","v":-0.1305},{"g":"Subphenotype 1","v":-0.1343},{"g":"Subphenotype 1","v":-0.1385},{"g":"Subphenotype 1","v":-0.1448},{"g":"Subphenotype 2","v":0.0657},{"g":"Subphenotype 2","v":0.0498},{"g":"Subphenotype 2","v":0.0464},{"g":"Subphenotype 2","v":0.0431},{"g":"Subphenotype 2","v":0.0301},{"g":"Subphenotype 2","v":0.0251},{"g":"Subphenotype 2","v":-0.0389},{"g":"Subphenotype 2","v":-0.0423},{"g":"Subphenotype 2","v":-0.0452},{"g":"Subphenotype 2","v":-0.0485},{"g":"Subphenotype 2","v":-0.0515},{"g":"Subphenotype 2","v":-0.0544},{"g":"Subphenotype 2","v":-0.0577},{"g":"Subphenotype 2","v":-0.0607},{"g":"Subphenotype 2","v":-0.064},{"g":"Subphenotype 2","v":-0.0674},{"g":"Subphenotype 2","v":-0.0711},{"g":"Subphenotype 2","v":-0.0753},{"g":"Subphenotype 2","v":-0.0808},{"g":"Subphenotype 2","v":-0.0862},{"g":"Subphenotype 2","v":-0.092},{"g":"Subphenotype 2","v":-0.1017}]},"mark":{"type":"point","shape":"M-1,0H1M0,-1V1","size":100,"filled":false},"encoding":{"y":{"field":"v","type":"quantitative"}}},
{"data":{"values":[{"g":"Subphenotype 1","t":"(H)"}]},"mark":{"type":"text","align":"left","baseline":"top","dx":11,"dy":12},"encoding":{"x":{"field":"g","type":"nominal","bandPosition":0,"scale":{"type":"band"}},"y":{"datum":0.1113,"type":"quantitative"},"text":{"field":"t"}}},
{"data":{"values":[{"g":"Subphenotype 2","t":"P=0.005"}]},"mark":{"type":"text","align":"right","baseline":"top","dx":-18,"dy":8},"encoding":{"x":{"field":"g","type":"nominal","bandPosition":1,"scale":{"type":"band"}},"y":{"datum":0.1113,"type":"quantitative"},"text":{"field":"t"}}}
]},
{"width":322,"height":216,
"data":{"values":[{"g":"Subphenotype 1","q1":-0.015,"q3":0.0103,"med":0,"nhi":0.006,"nlo":-0.0056,"whi":0.0452,"wlo":-0.0505},{"g":"Subphenotype 2","q1":-0.0106,"q3":0.001,"med":0,"nhi":0.001,"nlo":-0.002,"whi":0.0153,"wlo":-0.0249}]},
"encoding":{"x":{"field":"g","type":"nominal","bandPosition":0.5,"title":null,"scale":{"type":"band","domain":["Subphenotype 1","Subphenotype 2"],"paddingInner":0,"paddingOuter":0},"axis":{"labelAngle":0,"grid":true,"bandPosition":0.5}}},
"layer":[
{"mark":{"type":"rule","xOffset":-24,"x2Offset":24},"encoding":{"x2":{"field":"g","bandPosition":0.5},"y":{"field":"q3","type":"quantitative","scale":{"domain":[-0.1153,0.0987],"nice":false,"zero":false},"axis":{"title":"Consolidation [%]","values":[-0.1,-0.05,0,0.05],"labelExpr":"'' + datum.value"}},"y2":{"field":"q3"}}},
{"mark":{"type":"rule","xOffset":-24,"x2Offset":24},"encoding":{"x2":{"field":"g","bandPosition":0.5},"y":{"field":"q1","type":"quantitative"},"y2":{"field":"q1"}}},
{"mark":{"type":"rule","xOffset":-24,"x2Offset":-24},"encoding":{"x2":{"field":"g","bandPosition":0.5},"y":{"field":"q3","type":"quantitative"},"y2":{"field":"nhi"}}},
{"mark":{"type":"rule","xOffset":-24,"x2Offset":-14},"encoding":{"x2":{"field":"g","bandPosition":0.5},"y":{"field":"nhi","type":"quantitative"},"y2":{"field":"med"}}},
{"mark":{"type":"rule","xOffset":-14,"x2Offset":-24},"encoding":{"x2":{"field":"g","bandPosition":0.5},"y":{"field":"med","type":"quantitative"},"y2":{"field":"nlo"}}},
{"mark":{"type":"rule","xOffset":-24,"x2Offset":-24},"encoding":{"x2":{"field":"g","bandPosition":0.5},"y":{"field":"nlo","type":"quantitative"},"y2":{"field":"q1"}}},
{"mark":{"type":"rule","xOffset":24,"x2Offset":24},"encoding":{"x2":{"field":"g","bandPosition":0.5},"y":{"field":"q3","type":"quantitative"},"y2":{"field":"nhi"}}},
{"mark":{"type":"rule","xOffset":24,"x2Offset":14},"encoding":{"x2":{"field":"g","bandPosition":0.5},"y":{"field":"nhi","type":"quantitative"},"y2":{"field":"med"}}},
{"mark":{"type":"rule","xOffset":14,"x2Offset":24},"encoding":{"x2":{"field":"g","bandPosition":0.5},"y":{"field":"med","type":"quantitative"},"y2":{"field":"nlo"}}},
{"mark":{"type":"rule","xOffset":24,"x2Offset":24},"encoding":{"x2":{"field":"g","bandPosition":0.5},"y":{"field":"nlo","type":"quantitative"},"y2":{"field":"q1"}}},
{"mark":{"type":"rule","xOffset":-14,"x2Offset":14},"encoding":{"x2":{"field":"g","bandPosition":0.5},"y":{"field":"med","type":"quantitative"},"y2":{"field":"med"}}},
{"mark":{"type":"rule","strokeDash":[14,7]},"encoding":{"y":{"field":"q3","type":"quantitative"},"y2":{"field":"whi"}}},
{"mark":{"type":"rule","strokeDash":[14,7]},"encoding":{"y":{"field":"q1","type":"quantitative"},"y2":{"field":"wlo"}}},
{"mark":{"type":"rule","xOffset":-12,"x2Offset":12},"encoding":{"x2":{"field":"g","bandPosition":0.5},"y":{"field":"whi","type":"quantitative"},"y2":{"field":"whi"}}},
{"mark":{"type":"rule","xOffset":-12,"x2Offset":12},"encoding":{"x2":{"field":"g","bandPosition":0.5},"y":{"field":"wlo","type":"quantitative"},"y2":{"field":"wlo"}}},
{"data":{"values":[{"g":"Subphenotype 1","v":0.09},{"g":"Subphenotype 1","v":0.0751},{"g":"Subphenotype 1","v":0.0601},{"g":"Subphenotype 1","v":0.0575},{"g":"Subphenotype 1","v":0.0542},{"g":"Subphenotype 1","v":-0.0538},{"g":"Subphenotype 1","v":-0.0571},{"g":"Subphenotype 1","v":-0.0605},{"g":"Subphenotype 1","v":-0.0748},{"g":"Subphenotype 1","v":-0.1053},{"g":"Subphenotype 2","v":0.0382},{"g":"Subphenotype 2","v":0.0349},{"g":"Subphenotype 2","v":0.0316},{"g":"Subphenotype 2","v":0.0276},{"g":"Subphenotype 2","v":0.0236},{"g":"Subphenotype 2","v":0.0193},{"g":"Subphenotype 2","v":-0.0289},{"g":"Subphenotype 2","v":-0.0322},{"g":"Subphenotype 2","v":-0.0362},{"g":"Subphenotype 2","v":-0.0395}]},"mark":{"type":"point","shape":"M-1,0H1M0,-1V1","size":100,"filled":false},"encoding":{"y":{"field":"v","type":"quantitative"}}},
{"data":{"values":[{"g":"Subphenotype 1","t":"(I)"}]},"mark":{"type":"text","align":"left","baseline":"top","dx":11,"dy":12},"encoding":{"x":{"field":"g","type":"nominal","bandPosition":0,"scale":{"type":"band"}},"y":{"datum":0.0987,"type":"quantitative"},"text":{"field":"t"}}},
{"data":{"values":[{"g":"Subphenotype 2","t":"P=0.462"}]},"mark":{"type":"text","align":"right","baseline":"top","dx":-18,"dy":8},"encoding":{"x":{"field":"g","type":"nominal","bandPosition":1,"scale":{"type":"band"}},"y":{"datum":0.0987,"type":"quantitative"},"text":{"field":"t"}}}
]}
]
}
